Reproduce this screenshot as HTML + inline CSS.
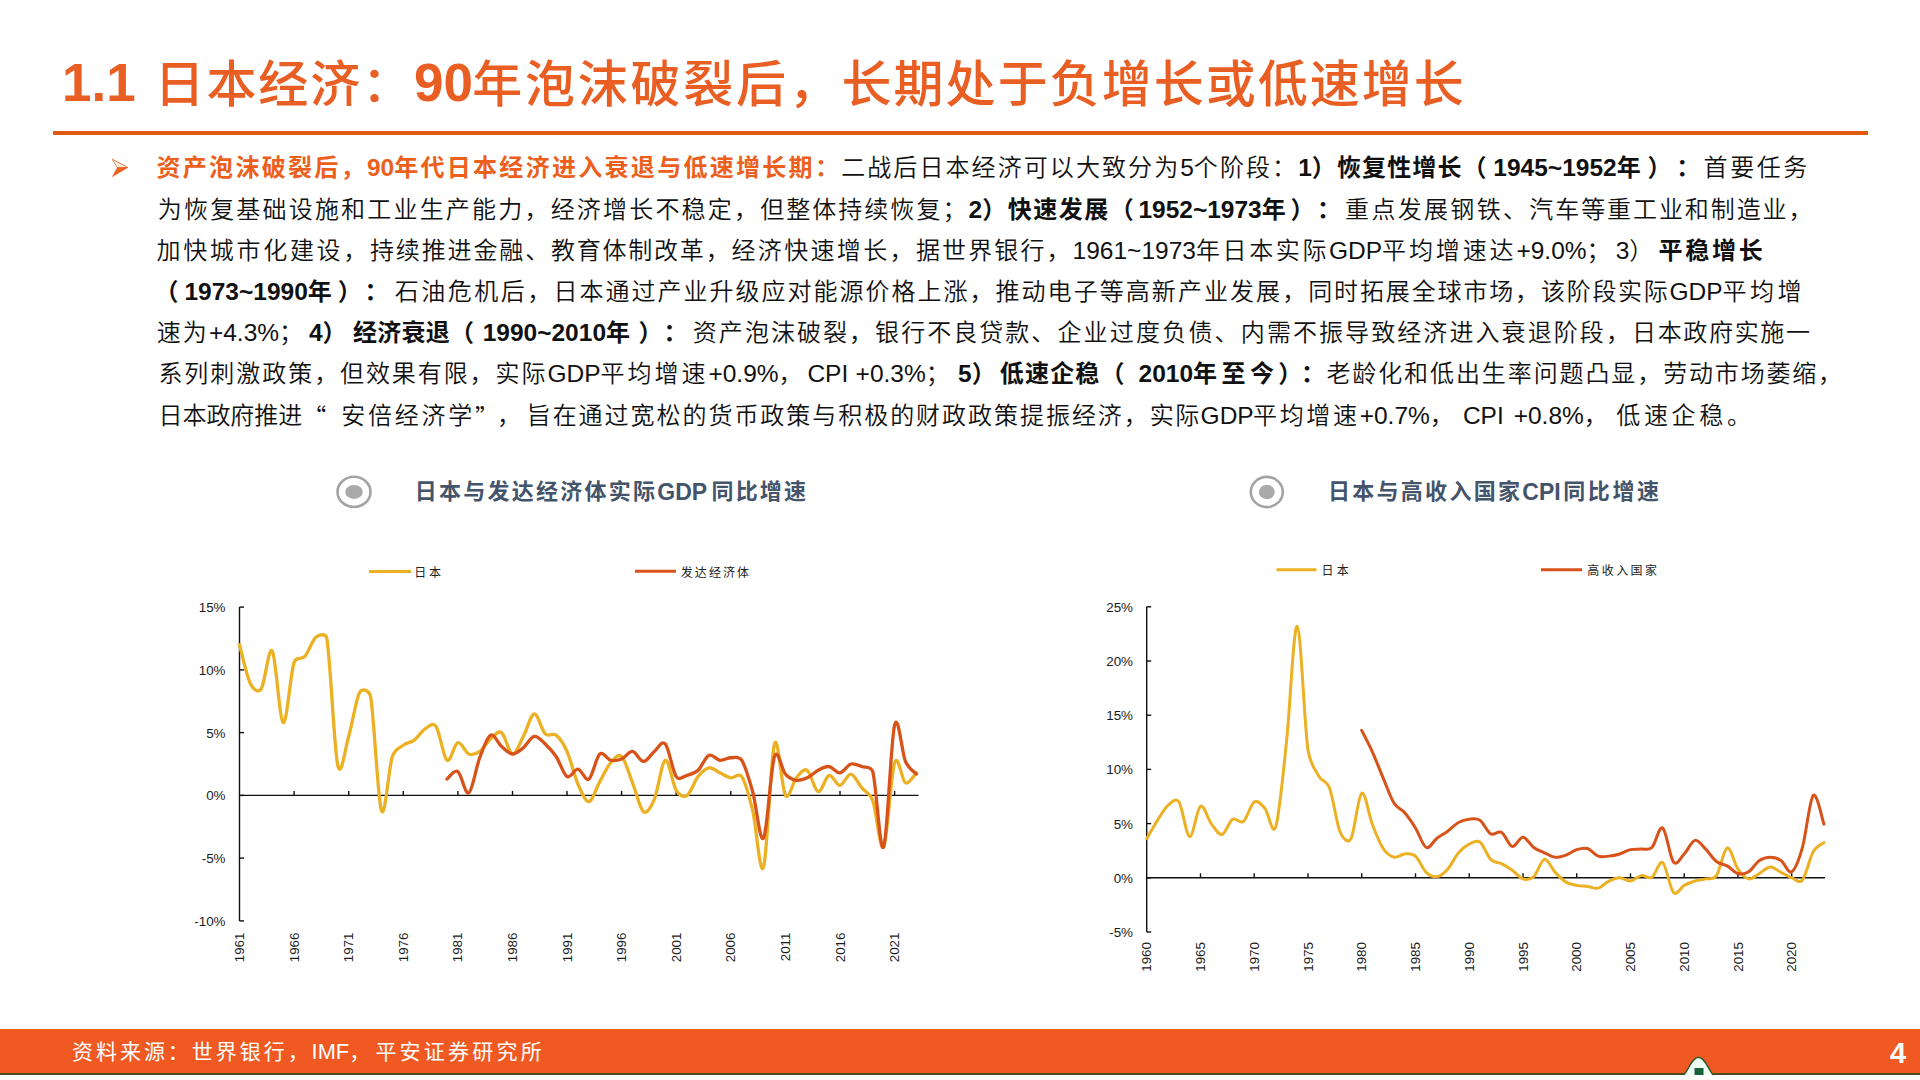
<!DOCTYPE html><html lang="zh-CN"><head><meta charset="utf-8"><title>日本经济</title><style>
*{margin:0;padding:0;box-sizing:border-box}
html,body{width:1920px;height:1080px;overflow:hidden;background:#fff}
body{position:relative;font-family:"Liberation Sans","Noto Sans CJK SC",sans-serif}
.grp{position:absolute;left:0;width:1920px;white-space:nowrap}
.sg{position:absolute;top:0}
.l{letter-spacing:0 !important}
.q{font-family:"Noto Sans CJK SC",sans-serif}
.title{color:#E95E22;font-size:53px;font-weight:700}
.title .c{font-weight:500;font-size:50px;top:2px}
#rule{position:absolute;left:53px;top:131px;width:1815px;height:4px;background:#E05A12}
.ln{font-size:24px;color:#111;font-weight:350}
.ln .l{font-size:24.5px}
.ln .b{font-weight:700}
.ln .o{color:#EC5F1C;font-weight:700}
.ctitle{font-size:22px;font-weight:700;color:#44546A}
.ctitle .l{font-size:23px}
.lg{font-size:12px;color:#222}
.charts{position:absolute;left:0;top:0}
#footer{position:absolute;left:0;top:1029px;width:1920px;height:46px;background:#F05A22}
#footer .bl{position:absolute;left:0;bottom:0;width:1920px;height:2px;background:#4d4a1e}
.src{color:#fff;font-size:21px}
.src .l{font-size:21.8px}
#pg{position:absolute;left:1890px;top:1036px;height:34px;line-height:34px;color:#fff;font-size:29px;font-weight:700;font-family:"Liberation Sans",sans-serif}
</style></head><body>
<div id="footer"><div class="bl"></div></div>
<div id="rule"></div>
<div class="grp title" style="top:47.5px;height:70px;line-height:70px"><span class="sg n" id="st_0" style="left:62.10px;letter-spacing:0.000px"><span class="l">1.1</span></span><span class="sg c" id="st_1" style="left:154.50px;letter-spacing:1.900px">日本经济：</span><span class="sg n" id="st_2" style="left:414.00px;letter-spacing:0.000px"><span class="l">90</span></span><span class="sg c" id="st_3" style="left:472.30px;letter-spacing:2.755px">年泡沫破裂后，</span><span class="sg c" id="st_4" style="left:841.60px;letter-spacing:2.012px">长期处于负增长或低速增长</span></div>
<div class="grp ln" style="top:147.4px;height:41px;line-height:41px"><span class="sg o" id="sL0_0" style="left:156.50px;letter-spacing:2.297px">资产泡沫破裂后，<span class="l">90</span>年代日本经济进入衰退与低速增长期：</span><span class="sg" id="sL0_1" style="left:841.20px;letter-spacing:2.079px">二战后日本经济可以大致分为<span class="l">5</span>个阶段：</span><span class="sg b" id="sL0_2" style="left:1298.20px;letter-spacing:1.127px"><span class="l">1</span>）恢复性增长</span><span class="sg b" id="sL0_3" style="left:1462.60px;letter-spacing:6.728px">（<span class="l">1945~1952</span>年</span><span class="sg b" id="sL0_4" style="left:1647.40px;letter-spacing:4.888px">）</span><span class="sg b" id="sL0_5" style="left:1676.30px;letter-spacing:3.288px">：</span><span class="sg" id="sL0_6" style="left:1703.60px;letter-spacing:2.535px">首要任务</span></div>
<div class="grp ln" style="top:188.6px;height:41px;line-height:41px"><span class="sg" id="sL1_0" style="left:157.75px;letter-spacing:2.193px">为恢复基础设施和工业生产能力，经济增长不稳定，</span><span class="sg" id="sL1_1" style="left:760.20px;letter-spacing:2.037px">但整体持续恢复；</span><span class="sg b" id="sL1_2" style="left:968.50px;letter-spacing:1.512px"><span class="l">2</span>）快速发展</span><span class="sg b" id="sL1_3" style="left:1109.70px;letter-spacing:4.678px">（<span class="l">1952~1973</span>年</span><span class="sg b" id="sL1_4" style="left:1290.40px;letter-spacing:2.597px">）</span><span class="sg b" id="sL1_5" style="left:1317.00px;letter-spacing:4.097px">：</span><span class="sg" id="sL1_6" style="left:1345.10px;letter-spacing:2.314px">重点发展钢铁、</span><span class="sg" id="sL1_7" style="left:1529.30px;letter-spacing:1.920px">汽车等重工业和制造业，</span></div>
<div class="grp ln" style="top:229.8px;height:41px;line-height:41px"><span class="sg" id="sL2_0" style="left:156.50px;letter-spacing:2.687px">加快城市化建设，</span><span class="sg" id="sL2_1" style="left:370.00px;letter-spacing:1.857px">持续推进金融、</span><span class="sg" id="sL2_2" style="left:551.00px;letter-spacing:1.771px">教育体制改革，</span><span class="sg" id="sL2_3" style="left:731.40px;letter-spacing:2.371px">经济快速增长，</span><span class="sg" id="sL2_4" style="left:916.00px;letter-spacing:2.100px">据世界银行，</span><span class="sg" id="sL2_5" style="left:1072.60px;letter-spacing:2.614px"><span class="l">1961~1973</span>年日本实际</span><span class="sg" id="sL2_6" style="left:1329.00px;letter-spacing:2.861px"><span class="l">GDP</span>平均增速达</span><span class="sg" id="sL2_7" style="left:1516.40px;letter-spacing:5.132px"><span class="l">+9.0%</span>；</span><span class="sg" id="sL2_8" style="left:1615.70px;letter-spacing:5.147px"><span class="l">3</span>）</span><span class="sg b" id="sL2_9" style="left:1658.50px;letter-spacing:2.764px">平稳增长</span></div>
<div class="grp ln" style="top:271.0px;height:41px;line-height:41px"><span class="sg b" id="sL3_0" style="left:154.50px;letter-spacing:5.978px">（<span class="l">1973~1990</span>年</span><span class="sg b" id="sL3_1" style="left:337.80px;letter-spacing:2.597px">）</span><span class="sg b" id="sL3_2" style="left:364.40px;letter-spacing:6.388px">：</span><span class="sg" id="sL3_3" style="left:394.80px;letter-spacing:2.466px">石油危机后，</span><span class="sg" id="sL3_4" style="left:553.60px;letter-spacing:1.994px">日本通过产业升级应对能源价格上涨，</span><span class="sg" id="sL3_5" style="left:995.50px;letter-spacing:2.058px">推动电子等高新产业发展，</span><span class="sg" id="sL3_6" style="left:1308.20px;letter-spacing:1.866px">同时拓展全球市场，</span><span class="sg" id="sL3_7" style="left:1541.00px;letter-spacing:1.700px">该阶段实际</span><span class="sg" id="sL3_8" style="left:1669.50px;letter-spacing:3.400px"><span class="l">GDP</span>平均增</span></div>
<div class="grp ln" style="top:312.2px;height:41px;line-height:41px"><span class="sg" id="sL4_0" style="left:156.80px;letter-spacing:2.046px">速为</span><span class="sg" id="sL4_1" style="left:208.90px;letter-spacing:5.844px"><span class="l">+4.3%</span>；</span><span class="sg b" id="sL4_2" style="left:308.90px;letter-spacing:6.555px"><span class="l">4</span>）</span><span class="sg b" id="sL4_3" style="left:353.10px;letter-spacing:0.250px">经济衰退</span><span class="sg b" id="sL4_4" style="left:450.10px;letter-spacing:8.586px">（<span class="l">1990~2010</span>年</span><span class="sg b" id="sL4_5" style="left:638.60px;letter-spacing:0.888px">）</span><span class="sg b" id="sL4_6" style="left:663.50px;letter-spacing:5.288px">：</span><span class="sg" id="sL4_7" style="left:692.80px;letter-spacing:2.041px">资产泡沫破裂，</span><span class="sg" id="sL4_8" style="left:875.10px;letter-spacing:2.041px">银行不良贷款、</span><span class="sg" id="sL4_9" style="left:1057.40px;letter-spacing:2.198px">企业过度负债、</span><span class="sg" id="sL4_10" style="left:1240.80px;letter-spacing:2.080px">内需不振导致经济进入衰退阶段，</span><span class="sg" id="sL4_11" style="left:1632.00px;letter-spacing:1.667px">日本政府实施一</span></div>
<div class="grp ln" style="top:353.4px;height:41px;line-height:41px"><span class="sg" id="sL5_0" style="left:158.40px;letter-spacing:1.957px">系列刺激政策，</span><span class="sg" id="sL5_1" style="left:340.10px;letter-spacing:1.883px">但效果有限，</span><span class="sg" id="sL5_2" style="left:495.40px;letter-spacing:2.000px">实际</span><span class="sg" id="sL5_3" style="left:547.40px;letter-spacing:2.973px"><span class="l">GDP</span>平均增速</span><span class="sg" id="sL5_4" style="left:708.40px;letter-spacing:4.844px"><span class="l">+0.9%</span>，</span><span class="sg" id="sL5_5" style="left:807.40px;letter-spacing:2.000px"><span class="l">CPI</span></span><span class="sg" id="sL5_6" style="left:855.60px;letter-spacing:8.344px"><span class="l">+0.3%</span>；</span><span class="sg b" id="sL5_7" style="left:958.10px;letter-spacing:4.053px"><span class="l">5</span>）</span><span class="sg b" id="sL5_8" style="left:999.80px;letter-spacing:1.171px">低速企稳</span><span class="sg b" id="sL5_9" style="left:1100.50px;letter-spacing:12.000px">（</span><span class="sg b" id="sL5_10" style="left:1138.60px;letter-spacing:4.393px"><span class="l">2010</span>年至今</span><span class="sg b" id="sL5_11" style="left:1278.30px;letter-spacing:-1.304px">）</span><span class="sg b" id="sL5_12" style="left:1301.00px;letter-spacing:1.388px">：</span><span class="sg" id="sL5_13" style="left:1326.40px;letter-spacing:1.907px">老龄化和低出生率问题凸显，</span><span class="sg" id="sL5_14" style="left:1663.20px;letter-spacing:1.816px">劳动市场萎缩，</span></div>
<div class="grp ln" style="top:394.5px;height:41px;line-height:41px"><span class="sg" id="sL6_0" style="left:158.50px;letter-spacing:-0.053px">日本政府推进</span><span class="sg" id="sL6_1" style="left:302.20px;letter-spacing:12.000px"><span class="q">“</span></span><span class="sg" id="sL6_2" style="left:341.20px;letter-spacing:2.760px">安倍经济学</span><span class="sg" id="sL6_3" style="left:475.00px;letter-spacing:-2.000px"><span class="q">”</span></span><span class="sg" id="sL6_4" style="left:497.00px;letter-spacing:5.696px">，</span><span class="sg" id="sL6_5" style="left:526.70px;letter-spacing:1.962px">旨在通过宽松的货币政策与积极的财政政策提振经济，</span><span class="sg" id="sL6_6" style="left:1149.80px;letter-spacing:1.400px">实际</span><span class="sg" id="sL6_7" style="left:1200.60px;letter-spacing:2.000px"><span class="l">GDP</span></span><span class="sg" id="sL6_8" style="left:1253.00px;letter-spacing:2.671px">平均增速</span><span class="sg" id="sL6_9" style="left:1359.70px;letter-spacing:9.040px"><span class="l">+0.7%</span>，</span><span class="sg" id="sL6_10" style="left:1462.90px;letter-spacing:2.000px"><span class="l">CPI</span></span><span class="sg" id="sL6_11" style="left:1513.70px;letter-spacing:8.344px"><span class="l">+0.8%</span>，</span><span class="sg" id="sL6_12" style="left:1616.20px;letter-spacing:3.700px">低速企稳。</span></div>
<div class="grp ctitle" style="top:476.0px;height:32px;line-height:32px"><span class="sg" id="sca_0" style="left:414.80px;letter-spacing:2.248px">日本与发达经济体实际</span><span class="sg" id="sca_1" style="left:657.30px;letter-spacing:1.000px"><span class="l">GDP</span></span><span class="sg" id="sca_2" style="left:711.50px;letter-spacing:2.131px">同比增速</span></div>
<div class="grp ctitle" style="top:476.0px;height:32px;line-height:32px"><span class="sg" id="scb_0" style="left:1327.90px;letter-spacing:2.298px">日本与高收入国家</span><span class="sg" id="scb_1" style="left:1522.30px;letter-spacing:1.000px"><span class="l">CPI</span></span><span class="sg" id="scb_2" style="left:1563.30px;letter-spacing:2.570px">同比增速</span></div>
<div class="grp lg" style="top:564.5px;height:16px;line-height:16px"><span class="sg" id="sla_0" style="left:414.25px;letter-spacing:2.750px">日本</span></div>
<div class="grp lg" style="top:564.5px;height:16px;line-height:16px"><span class="sg" id="slb_0" style="left:680.80px;letter-spacing:2.075px">发达经济体</span></div>
<div class="grp lg" style="top:563.0px;height:16px;line-height:16px"><span class="sg" id="slc_0" style="left:1321.50px;letter-spacing:3.200px">日本</span></div>
<div class="grp lg" style="top:563.0px;height:16px;line-height:16px"><span class="sg" id="sld_0" style="left:1587.20px;letter-spacing:2.475px">高收入国家</span></div>
<div class="grp src" style="top:1036.0px;height:32px;line-height:32px"><span class="sg" id="ssr_0" style="left:72.00px;letter-spacing:2.960px">资料来源：世界银行，</span><span class="sg" id="ssr_1" style="left:311.60px;letter-spacing:5.258px"><span class="l">IMF</span>，</span><span class="sg" id="ssr_2" style="left:375.40px;letter-spacing:3.220px">平安证券研究所</span></div>
<svg class="charts" width="1920" height="1080" viewBox="0 0 1920 1080">
<g stroke="#111" stroke-width="1.4" fill="none" shape-rendering="auto">
<line x1="239.5" y1="607.1" x2="239.5" y2="920.9"/>
<line x1="239.5" y1="920.9" x2="244.0" y2="920.9"/>
<line x1="239.5" y1="858.1" x2="244.0" y2="858.1"/>
<line x1="239.5" y1="795.4" x2="244.0" y2="795.4"/>
<line x1="239.5" y1="732.6" x2="244.0" y2="732.6"/>
<line x1="239.5" y1="669.9" x2="244.0" y2="669.9"/>
<line x1="239.5" y1="607.1" x2="244.0" y2="607.1"/>
<line x1="239.5" y1="795.4" x2="918.5" y2="795.4"/>
<line x1="294.1" y1="795.4" x2="294.1" y2="790.9"/>
<line x1="348.7" y1="795.4" x2="348.7" y2="790.9"/>
<line x1="403.3" y1="795.4" x2="403.3" y2="790.9"/>
<line x1="457.9" y1="795.4" x2="457.9" y2="790.9"/>
<line x1="512.5" y1="795.4" x2="512.5" y2="790.9"/>
<line x1="567.0" y1="795.4" x2="567.0" y2="790.9"/>
<line x1="621.6" y1="795.4" x2="621.6" y2="790.9"/>
<line x1="676.2" y1="795.4" x2="676.2" y2="790.9"/>
<line x1="730.8" y1="795.4" x2="730.8" y2="790.9"/>
<line x1="785.4" y1="795.4" x2="785.4" y2="790.9"/>
<line x1="840.0" y1="795.4" x2="840.0" y2="790.9"/>
<line x1="894.6" y1="795.4" x2="894.6" y2="790.9"/>
</g>
<g stroke="#111" stroke-width="1.4" fill="none">
<line x1="1146.7" y1="606.8" x2="1146.7" y2="932.0"/>
<line x1="1146.7" y1="932.0" x2="1151.2" y2="932.0"/>
<line x1="1146.7" y1="877.8" x2="1151.2" y2="877.8"/>
<line x1="1146.7" y1="823.6" x2="1151.2" y2="823.6"/>
<line x1="1146.7" y1="769.4" x2="1151.2" y2="769.4"/>
<line x1="1146.7" y1="715.2" x2="1151.2" y2="715.2"/>
<line x1="1146.7" y1="661.0" x2="1151.2" y2="661.0"/>
<line x1="1146.7" y1="606.8" x2="1151.2" y2="606.8"/>
<line x1="1146.7" y1="877.8" x2="1825.0" y2="877.8"/>
<line x1="1200.5" y1="877.8" x2="1200.5" y2="873.3"/>
<line x1="1254.2" y1="877.8" x2="1254.2" y2="873.3"/>
<line x1="1308.0" y1="877.8" x2="1308.0" y2="873.3"/>
<line x1="1361.7" y1="877.8" x2="1361.7" y2="873.3"/>
<line x1="1415.5" y1="877.8" x2="1415.5" y2="873.3"/>
<line x1="1469.2" y1="877.8" x2="1469.2" y2="873.3"/>
<line x1="1523.0" y1="877.8" x2="1523.0" y2="873.3"/>
<line x1="1576.7" y1="877.8" x2="1576.7" y2="873.3"/>
<line x1="1630.5" y1="877.8" x2="1630.5" y2="873.3"/>
<line x1="1684.2" y1="877.8" x2="1684.2" y2="873.3"/>
<line x1="1738.0" y1="877.8" x2="1738.0" y2="873.3"/>
<line x1="1791.7" y1="877.8" x2="1791.7" y2="873.3"/>
</g>
<path d="M239.50,644.80 C241.32,651.28 246.78,676.38 250.42,683.70 C253.09,689.09 257.99,693.72 261.34,688.72 C264.98,683.29 268.61,645.43 272.25,651.07 C275.89,656.72 279.53,720.73 283.17,722.61 C286.81,724.49 290.45,673.46 294.09,662.37 C296.05,656.39 301.37,660.28 305.01,656.10 C308.65,651.91 312.29,640.20 315.93,637.27 C319.57,634.34 325.92,633.11 326.84,638.52 C330.48,659.86 334.12,748.96 337.76,765.28 C341.12,780.34 345.04,748.55 348.68,736.41 C352.32,724.28 355.96,699.18 359.60,692.49 C362.36,687.42 369.47,690.58 370.52,696.25 C374.16,715.92 377.79,800.42 381.43,810.46 C385.07,820.50 388.71,767.37 392.35,756.50 C394.84,749.05 399.63,747.92 403.27,745.20 C406.91,742.48 410.55,742.90 414.19,740.18 C417.83,737.46 421.47,731.19 425.11,728.88 C428.75,726.58 432.82,721.78 436.02,726.38 C439.66,731.60 443.30,757.54 446.94,760.26 C450.58,762.98 454.22,743.74 457.86,742.69 C461.50,741.64 465.14,752.52 468.78,753.99 C472.42,755.45 476.06,753.99 479.70,751.48 C483.34,748.97 486.97,742.06 490.61,738.92 C494.25,735.79 497.89,730.14 501.53,732.65 C505.17,735.16 508.81,753.36 512.45,753.99 C516.09,754.61 519.73,743.11 523.37,736.41 C527.01,729.72 530.65,714.24 534.29,713.82 C537.93,713.41 541.56,730.35 545.20,733.90 C548.84,737.46 552.48,732.23 556.12,735.16 C559.76,738.09 563.40,743.32 567.04,751.48 C570.68,759.63 574.32,775.74 577.96,784.11 C581.60,792.47 585.24,802.09 588.88,801.67 C592.52,801.26 596.15,788.08 599.79,781.60 C603.43,775.11 607.07,766.95 610.71,762.77 C614.35,758.59 617.99,753.15 621.63,756.50 C625.27,759.84 628.91,773.65 632.55,782.85 C636.19,792.05 639.83,809.00 643.47,811.72 C647.11,814.43 651.13,806.82 654.38,799.16 C658.02,790.59 661.66,761.72 665.30,760.26 C668.94,758.80 672.58,784.52 676.22,790.38 C679.39,795.48 683.50,797.70 687.14,795.40 C690.78,793.10 694.42,781.18 698.06,776.57 C701.70,771.97 705.33,768.42 708.97,767.79 C712.61,767.16 716.25,771.14 719.89,772.81 C723.53,774.48 727.17,777.20 730.81,777.83 C734.45,778.46 738.67,772.01 741.73,776.57 C745.37,782.01 749.01,795.40 752.65,810.46 C756.29,825.52 759.92,878.02 763.56,866.93 C767.20,855.85 770.84,755.87 774.48,743.94 C778.12,732.02 781.76,789.75 785.40,795.40 C789.04,801.05 792.68,782.01 796.32,777.83 C799.96,773.65 803.60,768.00 807.24,770.30 C810.88,772.60 814.51,790.80 818.15,791.63 C821.79,792.47 825.43,776.37 829.07,775.32 C832.71,774.27 836.35,785.57 839.99,785.36 C843.63,785.15 847.27,773.65 850.91,774.06 C854.55,774.48 858.19,783.48 861.83,787.87 C865.47,792.26 869.86,792.62 872.74,800.42 C876.38,810.25 880.02,853.13 883.66,846.86 C887.30,840.58 890.94,773.44 894.58,762.77 C898.22,752.10 901.86,781.18 905.50,782.85 C909.14,784.52 914.60,774.48 916.42,772.81" fill="none" stroke="#ECB023" stroke-width="3.30" stroke-linejoin="round" stroke-linecap="round"/>
<path d="M446.94,779.08 C448.76,777.83 454.22,769.25 457.86,771.55 C461.50,773.86 465.14,795.19 468.78,792.89 C472.42,790.59 476.06,767.37 479.70,757.75 C483.34,748.13 486.97,737.04 490.61,735.16 C494.25,733.28 497.89,743.32 501.53,746.45 C505.17,749.59 508.81,753.78 512.45,753.99 C516.09,754.19 519.73,750.64 523.37,747.71 C527.01,744.78 530.65,737.04 534.29,736.41 C537.93,735.79 541.56,740.60 545.20,743.94 C548.84,747.29 552.48,751.06 556.12,756.50 C559.76,761.93 563.40,774.48 567.04,776.57 C570.68,778.67 574.32,768.63 577.96,769.04 C581.60,769.46 585.24,781.59 588.88,779.08 C592.52,776.57 596.15,757.12 599.79,753.99 C603.43,750.85 607.07,759.42 610.71,760.26 C614.35,761.10 617.99,760.47 621.63,759.00 C625.27,757.54 628.91,751.06 632.55,751.48 C636.19,751.89 639.83,761.51 643.47,761.51 C647.11,761.51 650.74,754.40 654.38,751.48 C658.02,748.55 661.66,739.76 665.30,743.94 C668.94,748.13 672.58,771.35 676.22,776.57 C679.36,781.09 683.50,776.37 687.14,775.32 C690.78,774.27 694.42,773.65 698.06,770.30 C701.70,766.95 705.33,756.91 708.97,755.24 C712.61,753.57 716.25,759.84 719.89,760.26 C723.53,760.68 727.17,757.75 730.81,757.75 C734.45,757.75 738.69,755.55 741.73,760.26 C745.37,765.91 749.01,778.67 752.65,791.63 C756.29,804.60 759.92,843.93 763.56,838.07 C767.20,832.21 770.84,767.16 774.48,756.50 C777.82,746.71 781.76,770.09 785.40,774.06 C789.04,778.04 792.68,779.71 796.32,780.34 C799.96,780.97 803.60,779.50 807.24,777.83 C810.88,776.16 814.51,772.18 818.15,770.30 C821.79,768.42 825.43,766.12 829.07,766.53 C832.71,766.95 836.35,773.23 839.99,772.81 C843.63,772.39 847.27,765.07 850.91,764.02 C854.55,762.98 858.19,765.28 861.83,766.53 C865.47,767.79 871.17,765.76 872.74,771.55 C876.38,784.94 880.02,854.59 883.66,846.86 C887.30,839.12 890.94,739.34 894.58,725.12 C898.22,710.90 901.86,753.36 905.50,761.51 C908.89,769.11 914.60,771.97 916.42,774.06" fill="none" stroke="#D8531A" stroke-width="3.30" stroke-linejoin="round" stroke-linecap="round"/>
<path d="M1146.70,838.78 C1148.49,835.70 1153.87,825.95 1157.45,820.35 C1161.03,814.75 1164.62,808.24 1168.20,805.17 C1171.78,802.10 1175.78,797.28 1178.95,801.92 C1182.53,807.16 1186.12,835.89 1189.70,836.61 C1193.28,837.33 1196.87,808.42 1200.45,806.26 C1204.03,804.09 1207.62,818.90 1211.20,823.60 C1214.78,828.30 1218.37,835.16 1221.95,834.44 C1225.53,833.72 1229.12,821.43 1232.70,819.26 C1236.28,817.10 1239.87,824.32 1243.45,821.43 C1247.03,818.54 1250.62,804.09 1254.20,801.92 C1257.78,799.75 1261.37,804.27 1264.95,808.42 C1268.53,812.58 1272.40,837.00 1275.70,826.85 C1279.28,815.83 1282.87,775.72 1286.45,742.30 C1290.03,708.88 1293.62,625.05 1297.20,626.31 C1300.78,627.58 1304.37,724.96 1307.95,749.89 C1309.95,763.82 1315.12,769.58 1318.70,775.90 C1322.28,782.23 1326.59,780.33 1329.45,787.83 C1333.03,797.22 1336.62,823.78 1340.20,832.27 C1342.64,838.06 1347.92,844.28 1350.95,838.78 C1354.53,832.27 1358.12,795.60 1361.70,793.25 C1365.28,790.90 1368.87,815.47 1372.45,824.68 C1376.03,833.90 1379.62,843.11 1383.20,848.53 C1386.78,853.95 1390.37,856.30 1393.95,857.20 C1397.53,858.11 1401.12,854.13 1404.70,853.95 C1408.28,853.77 1411.87,853.05 1415.45,856.12 C1419.03,859.19 1422.62,868.95 1426.20,872.38 C1429.78,875.81 1433.37,877.26 1436.95,876.72 C1440.53,876.17 1444.12,873.10 1447.70,869.13 C1451.28,865.15 1454.87,857.02 1458.45,852.87 C1462.03,848.71 1465.62,846.00 1469.20,844.20 C1472.78,842.39 1476.37,839.50 1479.95,842.03 C1483.53,844.56 1487.12,855.76 1490.70,859.37 C1494.28,862.99 1497.87,861.90 1501.45,863.71 C1505.03,865.51 1508.62,867.68 1512.20,870.21 C1515.78,872.74 1519.37,877.80 1522.95,878.88 C1526.53,879.97 1530.12,879.97 1533.70,876.72 C1537.28,873.46 1540.87,860.09 1544.45,859.37 C1548.03,858.65 1551.62,868.59 1555.20,872.38 C1558.78,876.17 1562.37,879.97 1565.95,882.14 C1569.53,884.30 1573.12,884.67 1576.70,885.39 C1580.28,886.11 1583.87,886.02 1587.45,886.47 C1591.03,886.92 1594.62,889.00 1598.20,888.10 C1601.78,887.19 1605.37,882.77 1608.95,881.05 C1612.53,879.34 1616.12,877.80 1619.70,877.80 C1623.28,877.80 1626.87,881.41 1630.45,881.05 C1634.03,880.69 1637.62,876.26 1641.20,875.63 C1644.78,875.00 1648.37,879.43 1651.95,877.26 C1655.53,875.09 1659.12,860.09 1662.70,862.62 C1666.28,865.15 1669.87,888.64 1673.45,892.43 C1677.03,896.23 1680.62,887.28 1684.20,885.39 C1687.78,883.49 1691.37,882.14 1694.95,881.05 C1698.53,879.97 1702.12,879.79 1705.70,878.88 C1709.28,877.98 1713.24,880.24 1716.45,875.63 C1720.03,870.48 1723.62,849.07 1727.20,847.99 C1730.78,846.91 1734.37,863.98 1737.95,869.13 C1741.53,874.28 1745.12,878.16 1748.70,878.88 C1752.28,879.61 1755.87,875.45 1759.45,873.46 C1763.03,871.48 1766.62,867.14 1770.20,866.96 C1773.78,866.78 1777.37,870.57 1780.95,872.38 C1784.53,874.19 1788.12,876.54 1791.70,877.80 C1795.28,879.06 1798.96,884.19 1802.45,879.97 C1806.03,875.63 1809.62,858.02 1813.20,851.78 C1816.73,845.65 1822.16,844.11 1823.95,842.57" fill="none" stroke="#ECB023" stroke-width="3.00" stroke-linejoin="round" stroke-linecap="round"/>
<path d="M1361.70,730.38 C1363.49,733.99 1368.87,744.11 1372.45,752.06 C1376.03,760.01 1379.62,769.58 1383.20,778.07 C1386.78,786.56 1390.37,797.22 1393.95,803.00 C1397.53,808.79 1401.12,808.60 1404.70,812.76 C1408.28,816.92 1411.87,822.15 1415.45,827.94 C1419.03,833.72 1422.62,845.73 1426.20,847.45 C1429.78,849.16 1433.37,840.94 1436.95,838.23 C1440.53,835.52 1444.12,833.81 1447.70,831.19 C1451.28,828.57 1454.87,824.50 1458.45,822.52 C1462.03,820.53 1465.62,819.63 1469.20,819.26 C1472.78,818.90 1476.37,817.91 1479.95,820.35 C1483.53,822.79 1487.12,831.91 1490.70,833.90 C1494.28,835.89 1497.87,830.19 1501.45,832.27 C1505.03,834.35 1508.62,845.55 1512.20,846.36 C1515.78,847.18 1519.37,836.97 1522.95,837.15 C1526.53,837.33 1530.12,844.83 1533.70,847.45 C1537.28,850.07 1540.87,851.24 1544.45,852.87 C1548.03,854.49 1551.62,856.84 1555.20,857.20 C1558.78,857.57 1562.37,856.30 1565.95,855.04 C1569.53,853.77 1573.12,850.70 1576.70,849.62 C1580.28,848.53 1583.87,847.45 1587.45,848.53 C1591.03,849.62 1594.62,854.86 1598.20,856.12 C1601.78,857.38 1605.37,856.48 1608.95,856.12 C1612.53,855.76 1616.12,855.04 1619.70,853.95 C1623.28,852.87 1626.87,850.43 1630.45,849.62 C1634.03,848.80 1637.62,849.44 1641.20,849.07 C1644.78,848.71 1648.37,850.97 1651.95,847.45 C1655.53,843.92 1659.12,825.50 1662.70,827.94 C1666.28,830.37 1669.87,857.75 1673.45,862.08 C1677.03,866.42 1680.62,857.57 1684.20,853.95 C1687.78,850.34 1691.37,841.21 1694.95,840.40 C1698.53,839.59 1702.12,845.55 1705.70,849.07 C1709.28,852.60 1712.87,858.74 1716.45,861.54 C1720.03,864.34 1723.62,863.89 1727.20,865.88 C1730.78,867.86 1734.37,872.47 1737.95,873.46 C1741.53,874.46 1745.12,874.01 1748.70,871.84 C1752.28,869.67 1755.87,862.89 1759.45,860.46 C1763.03,858.02 1766.62,857.20 1770.20,857.20 C1773.78,857.20 1777.37,858.02 1780.95,860.46 C1784.53,862.89 1788.12,874.01 1791.70,871.84 C1795.28,869.67 1798.87,860.18 1802.45,847.45 C1806.03,834.71 1809.62,799.30 1813.20,795.42 C1816.78,791.53 1822.16,819.35 1823.95,824.14" fill="none" stroke="#D8531A" stroke-width="3.00" stroke-linejoin="round" stroke-linecap="round"/>
<g font-family="Liberation Sans, Arial, sans-serif" font-size="13.4" fill="#1a1a1a">
<text x="225.5" y="921.4" text-anchor="end" dominant-baseline="central">-10%</text>
<text x="225.5" y="858.6" text-anchor="end" dominant-baseline="central">-5%</text>
<text x="225.5" y="795.9" text-anchor="end" dominant-baseline="central">0%</text>
<text x="225.5" y="733.1" text-anchor="end" dominant-baseline="central">5%</text>
<text x="225.5" y="670.4" text-anchor="end" dominant-baseline="central">10%</text>
<text x="225.5" y="607.6" text-anchor="end" dominant-baseline="central">15%</text>
<text transform="translate(239.5,932.5) rotate(-90)" text-anchor="end" dominant-baseline="central">1961</text>
<text transform="translate(294.1,932.5) rotate(-90)" text-anchor="end" dominant-baseline="central">1966</text>
<text transform="translate(348.7,932.5) rotate(-90)" text-anchor="end" dominant-baseline="central">1971</text>
<text transform="translate(403.3,932.5) rotate(-90)" text-anchor="end" dominant-baseline="central">1976</text>
<text transform="translate(457.9,932.5) rotate(-90)" text-anchor="end" dominant-baseline="central">1981</text>
<text transform="translate(512.5,932.5) rotate(-90)" text-anchor="end" dominant-baseline="central">1986</text>
<text transform="translate(567.0,932.5) rotate(-90)" text-anchor="end" dominant-baseline="central">1991</text>
<text transform="translate(621.6,932.5) rotate(-90)" text-anchor="end" dominant-baseline="central">1996</text>
<text transform="translate(676.2,932.5) rotate(-90)" text-anchor="end" dominant-baseline="central">2001</text>
<text transform="translate(730.8,932.5) rotate(-90)" text-anchor="end" dominant-baseline="central">2006</text>
<text transform="translate(785.4,932.5) rotate(-90)" text-anchor="end" dominant-baseline="central">2011</text>
<text transform="translate(840.0,932.5) rotate(-90)" text-anchor="end" dominant-baseline="central">2016</text>
<text transform="translate(894.6,932.5) rotate(-90)" text-anchor="end" dominant-baseline="central">2021</text>
<text x="1133.0" y="932.5" text-anchor="end" dominant-baseline="central">-5%</text>
<text x="1133.0" y="878.3" text-anchor="end" dominant-baseline="central">0%</text>
<text x="1133.0" y="824.1" text-anchor="end" dominant-baseline="central">5%</text>
<text x="1133.0" y="769.9" text-anchor="end" dominant-baseline="central">10%</text>
<text x="1133.0" y="715.7" text-anchor="end" dominant-baseline="central">15%</text>
<text x="1133.0" y="661.5" text-anchor="end" dominant-baseline="central">20%</text>
<text x="1133.0" y="607.3" text-anchor="end" dominant-baseline="central">25%</text>
<text transform="translate(1146.7,942.0) rotate(-90)" text-anchor="end" dominant-baseline="central">1960</text>
<text transform="translate(1200.5,942.0) rotate(-90)" text-anchor="end" dominant-baseline="central">1965</text>
<text transform="translate(1254.2,942.0) rotate(-90)" text-anchor="end" dominant-baseline="central">1970</text>
<text transform="translate(1308.0,942.0) rotate(-90)" text-anchor="end" dominant-baseline="central">1975</text>
<text transform="translate(1361.7,942.0) rotate(-90)" text-anchor="end" dominant-baseline="central">1980</text>
<text transform="translate(1415.5,942.0) rotate(-90)" text-anchor="end" dominant-baseline="central">1985</text>
<text transform="translate(1469.2,942.0) rotate(-90)" text-anchor="end" dominant-baseline="central">1990</text>
<text transform="translate(1523.0,942.0) rotate(-90)" text-anchor="end" dominant-baseline="central">1995</text>
<text transform="translate(1576.7,942.0) rotate(-90)" text-anchor="end" dominant-baseline="central">2000</text>
<text transform="translate(1630.5,942.0) rotate(-90)" text-anchor="end" dominant-baseline="central">2005</text>
<text transform="translate(1684.2,942.0) rotate(-90)" text-anchor="end" dominant-baseline="central">2010</text>
<text transform="translate(1738.0,942.0) rotate(-90)" text-anchor="end" dominant-baseline="central">2015</text>
<text transform="translate(1791.7,942.0) rotate(-90)" text-anchor="end" dominant-baseline="central">2020</text>
</g>
<line x1="369" y1="571.4" x2="411" y2="571.4" stroke="#ECB023" stroke-width="3"/>
<line x1="635" y1="571.2" x2="676" y2="571.2" stroke="#D8531A" stroke-width="3"/>
<line x1="1276.5" y1="569.8" x2="1316.5" y2="569.8" stroke="#ECB023" stroke-width="3"/>
<line x1="1541" y1="569.8" x2="1582" y2="569.8" stroke="#D8531A" stroke-width="3"/>
<ellipse cx="354.0" cy="491.9" rx="16.5" ry="15.1" fill="none" stroke="#A3A3A3" stroke-width="2.6"/>
<ellipse cx="354.0" cy="491.9" rx="8.8" ry="7.0" fill="#ABAAAB"/>
<ellipse cx="1266.8" cy="492.0" rx="16.0" ry="15.1" fill="none" stroke="#A3A3A3" stroke-width="2.6"/>
<ellipse cx="1266.8" cy="492.0" rx="8.0" ry="7.2" fill="#ABAAAB"/>
<path d="M112.2,159.2 L127.8,167.5 L117.4,167.7 Z" fill="#FFF3EA" stroke="#EC5F1C" stroke-width="0.8" stroke-linejoin="round"/>
<path d="M117.4,167.7 L127.8,167.5 L112.5,176.6 Z" fill="#EC5F1C" stroke="#EC5F1C" stroke-width="0.6" stroke-linejoin="round"/>
<path d="M1683.5,1075 C1688,1072 1691,1058 1698.5,1057.3 C1706,1058 1709,1072 1713.5,1075" fill="#EFFFF4" stroke="#2E5A2E" stroke-width="1.4"/>
<rect x="1694.5" y="1068" width="9" height="7" fill="#17623A"/>
</svg>
<div id="pg">4</div>
</body></html>
